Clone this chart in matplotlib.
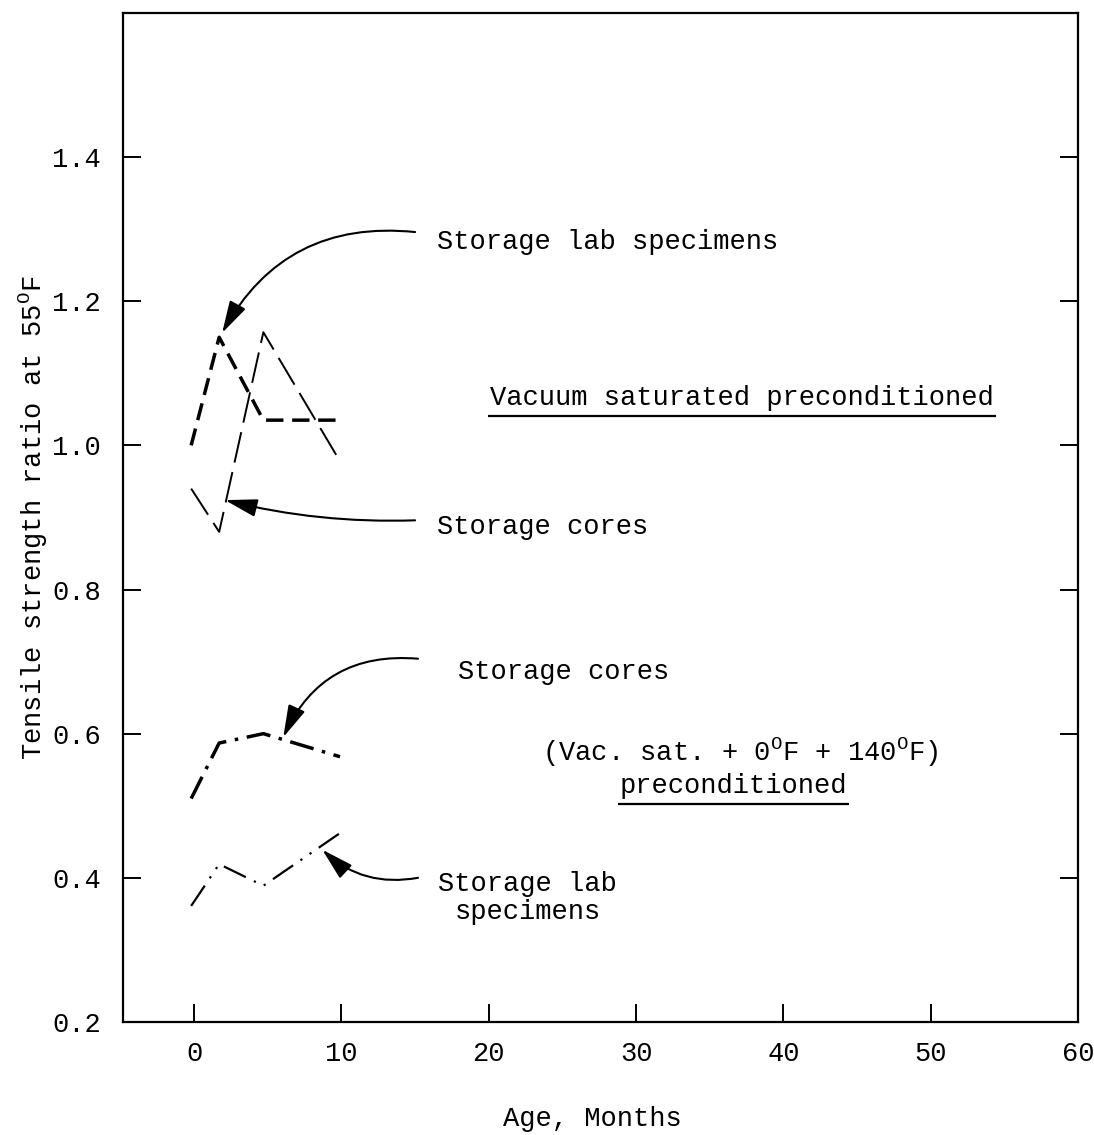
import matplotlib
matplotlib.use("Agg")
import matplotlib.pyplot as plt

# values (months, tensile strength ratio)
months = [-0.2, 1.7, 4.7, 9.9]
vac_lab = [1.0, 1.15, 1.035, 1.035]
vac_cores = [0.94, 0.88, 1.157, 0.978]
cyc_cores = [0.51, 0.587, 0.60, 0.568]
cyc_lab = [0.361, 0.419, 0.389, 0.462]

x_ticks = [0, 10, 20, 30, 40, 50, 60]
y_ticks = [0.2, 0.4, 0.6, 0.8, 1.0, 1.2, 1.4]

FONT = "Liberation Mono"
FS = 19.5
plt.rcParams["font.family"] = [FONT, "DejaVu Sans Mono"]
plt.rcParams["mathtext.fontset"] = "custom"
plt.rcParams["mathtext.rm"] = FONT
plt.rcParams["mathtext.it"] = FONT


def underline(fig, ax, txt, pad=5, ext=2):
    fig.canvas.draw()
    bb = txt.get_window_extent()
    inv = ax.transData.inverted()
    (x0, y0), (x1, _) = inv.transform([(bb.x0 - ext, bb.y0 - pad), (bb.x1 + ext, bb.y0 - pad)])
    ax.plot([x0, x1], [y0, y0], color="black", lw=1.6, solid_capstyle="butt")


def main():
    fig = plt.figure(figsize=(10.94, 11.35), dpi=100)
    ax = fig.add_axes([0.1124, 0.0996, 0.873, 0.889])

    ax.plot(months, vac_lab, color="black", lw=2.5, linestyle=(0, (5, 2.5)))
    ax.plot(months, vac_cores, color="black", lw=1.4, linestyle=(0, (16, 5)))
    ax.plot(months, cyc_cores, color="black", lw=2.5, linestyle=(0, (7, 2.5, 1, 2.5)))
    ax.plot(months, cyc_lab, color="black", lw=1.6, linestyle=(0, (11, 4, 1, 4, 1, 4)))

    ax.set_xlim(-4.83, 60)
    ax.set_ylim(0.2, 1.6)
    ax.set_xticks(x_ticks)
    ax.set_yticks(y_ticks)
    ax.set_yticklabels([f"{v:.1f}" for v in y_ticks])
    ax.tick_params(axis="both", direction="in", length=13, width=1.4,
                   labelsize=FS, pad=14)
    ax.tick_params(axis="y", right=True, pad=16)
    for s in ax.spines.values():
        s.set_linewidth(1.6)

    ax.set_xlabel("Age, Months", fontsize=FS)
    ax.xaxis.set_label_coords(0.491, -0.083)
    ax.set_ylabel(r"Tensile strength ratio at 5$5^{\mathrm{O}}$F", fontsize=FS)
    ax.yaxis.set_label_coords(-0.076, 0.5)

    arrow = dict(arrowstyle="-|>,head_length=0.9,head_width=0.25",
                 color="black", lw=1.5, mutation_scale=22, shrinkA=0, shrinkB=0)

    ax.text(16.5, 1.282, "Storage lab specimens", fontsize=FS, va="center")
    ax.annotate("", xy=(1.9, 1.156), xytext=(15.0, 1.296),
                arrowprops=dict(arrow, connectionstyle="arc3,rad=0.33"))

    ax.text(16.5, 0.887, "Storage cores", fontsize=FS, va="center")
    ax.annotate("", xy=(2.1, 0.924), xytext=(15.0, 0.896),
                arrowprops=dict(arrow, connectionstyle="arc3,rad=-0.07"))

    ax.text(17.9, 0.6855, "Storage cores", fontsize=FS, va="center")
    ax.annotate("", xy=(6.05, 0.595), xytext=(15.2, 0.704),
                arrowprops=dict(arrow, connectionstyle="arc3,rad=0.35"))

    ax.text(22.65, 0.372, "Storage lab\nspecimens", fontsize=FS, va="center",
            ha="center", linespacing=1.1)
    ax.annotate("", xy=(8.7, 0.439), xytext=(15.2, 0.40),
                arrowprops=dict(arrow, connectionstyle="arc3,rad=-0.25"))

    t1 = ax.text(20.07, 1.066, "Vacuum saturated preconditioned", fontsize=FS,
                 va="center")
    ax.text(23.6, 0.5745, r"(Vac. sat. + 0$^{\mathrm{O}}$F + 14$0^{\mathrm{O}}$F)",
            fontsize=FS, va="center")
    t2 = ax.text(36.6, 0.527, "preconditioned", fontsize=FS, va="center",
                 ha="center")
    underline(fig, ax, t1)
    underline(fig, ax, t2)

    fig.savefig("out.png", dpi=100)


if __name__ == "__main__":
    main()
